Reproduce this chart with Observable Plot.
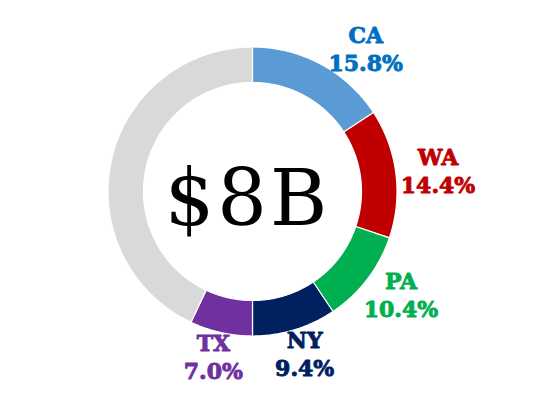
<!DOCTYPE html>
<html>
<head>
<meta charset="utf-8">
<script src="https://cdn.jsdelivr.net/npm/d3@7"></script>
<script src="https://cdn.jsdelivr.net/npm/@observablehq/plot@0.6"></script>
<style>
  html, body { margin: 0; padding: 0; background: #fff; }
  #chart svg { display: block; }
</style>
</head>
<body>
<div id="chart"></div>
<script>
// ---- data ----
const states = ["CA", "WA", "PA", "NY", "TX", "Other"];
const shares = [15.8, 14.4, 10.4, 9.4, 7.0, 43.0];
const sliceColors = ["#5B9BD5", "#C00000", "#00B050", "#002060", "#7030A0", "#D9D9D9"];
const labelColors = ["#0070C0", "#C00000", "#00B050", "#002060", "#7030A0", null];
const centerLabel = "$8B";

// ---- geometry (pixel units) ----
const W = 556, H = 404;
const cx = 252, cy = 191;
const R_OUT = 144.5, R_IN = 109;

const total = d3.sum(shares);
const slices = [];
let acc = 0;
states.forEach((s, i) => {
  const a0 = acc / total * 2 * Math.PI;
  acc += shares[i];
  const a1 = acc / total * 2 * Math.PI;
  slices.push({state: s, share: shares[i], a0, a1, fill: sliceColors[i], labelColor: labelColors[i]});
});

// polygon points for each ring slice
const pts = [];
for (const s of slices) {
  const n = Math.max(8, Math.ceil((s.a1 - s.a0) / 0.01));
  const ring = [];
  for (let k = 0; k <= n; k++) {
    const a = s.a0 + (s.a1 - s.a0) * k / n;
    ring.push({a, r: R_OUT});
  }
  for (let k = n; k >= 0; k--) {
    const a = s.a0 + (s.a1 - s.a0) * k / n;
    ring.push({a, r: R_IN});
  }
  ring.push(ring[0]);
  for (const p of ring) pts.push({state: s.state, fill: s.fill, x: p.r * Math.sin(p.a), y: p.r * Math.cos(p.a)});
}

// labels: "outside end" — box placed just outside the ring along the slice's mid angle
const labels = slices.filter(s => s.labelColor).map(s => {
  const pct = s.share.toFixed(1) + "%";
  let th = (s.a0 + s.a1) / 2;
  const minTh = 35.5 * Math.PI / 180;
  const pushed = th < minTh;
  th = Math.max(th, minTh);
  const ux = Math.sin(th), uy = Math.cos(th);
  const hw = Math.max(s.state.length, pct.length) * 7.7;
  const hh = 20;
  const rr = R_OUT + 4 + (pushed ? 8 : 0);
  return {
    text: s.state + "\n" + pct,
    color: s.labelColor,
    x: rr * ux + hw * ux,
    y: rr * uy + hh * uy
  };
});

const chart = Plot.plot({
  width: W,
  height: H,
  margin: 0,
  x: {domain: [-cx, W - cx], range: [0, W], axis: null},
  y: {domain: [-(H - cy), cy], range: [H, 0], axis: null},
  color: {type: "identity"},
  style: {background: "#fff"},
  marks: [
    Plot.line(pts, {x: "x", y: "y", z: "state", fill: "fill", stroke: "#fff", strokeWidth: 1.2, curve: "linear"}),
    Plot.text([centerLabel], {x: () => 0, y: () => 0, text: d => d, fontSize: 78, fontFamily: "DejaVu Serif", fill: "#000", dx: -5, dy: 9}),
    Plot.text(labels, {x: "x", y: "y", text: "text", fill: "color", stroke: "color", strokeWidth: 0.9, fontSize: 22, fontWeight: "bold", fontFamily: "DejaVu Serif", lineHeight: 1.27})
  ]
});
chart.querySelectorAll("text").forEach(t => {
  if (t.textContent === centerLabel) t.setAttribute("letter-spacing", "3px");
});
document.getElementById("chart").appendChild(chart);
</script>
</body>
</html>
